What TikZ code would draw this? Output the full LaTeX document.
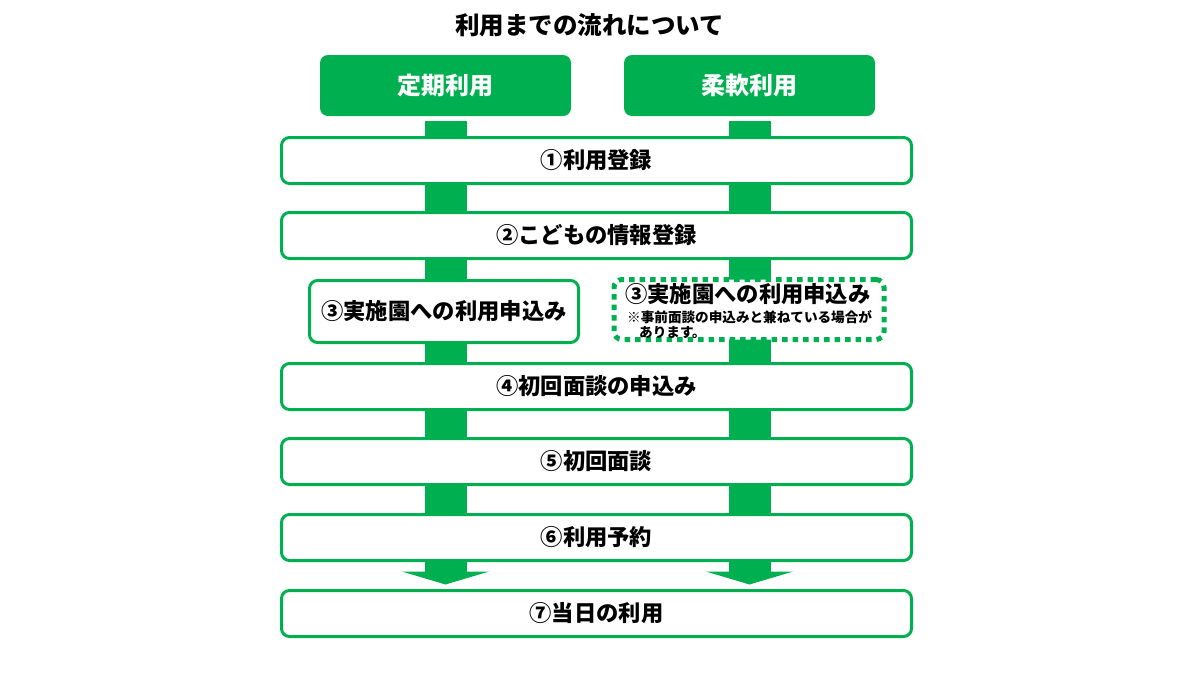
\documentclass[tikz,border=0pt]{standalone}
\usepackage{fontspec}
\setmainfont{Noto Sans CJK JP}
\usetikzlibrary{arrows.meta,backgrounds}
\definecolor{grn}{HTML}{00B050}
\begin{document}
\begin{tikzpicture}[x=1pt,y=-1pt,
  hdr/.style={fill=grn, rounded corners=8pt, minimum width=251pt, minimum height=61pt, inner sep=0pt, text=white, font=\fontsize{24}{28}\selectfont\bfseries},
  stepbox/.style={draw=grn, line width=3pt, fill=white, rounded corners=8pt, minimum width=630pt, minimum height=46pt, inner sep=0pt, font=\fontsize{22.3}{26}\selectfont\bfseries},
  subbox/.style={stepbox, minimum width=269pt, minimum height=62pt},
  dashbox/.style={draw=grn, line width=5pt, fill=white, rounded corners=8pt, dash pattern=on 5.5pt off 5pt, minimum width=270pt, minimum height=60pt, inner sep=0pt},
  txt/.style={inner sep=0pt, anchor=base west},
  flow/.style={grn, line width=42pt, -{Triangle[width=87pt,length=13pt]}, shorten <=5pt, shorten >=4.5pt}
]
\useasboundingbox (0,0) rectangle (1200,675);
\node[font=\fontsize{24.5}{28}\selectfont\bfseries, inner sep=0pt] (title) at (589.5,25) {利用までの流れについて};
\node[hdr] (h1) at (445.5,85.5) {定期利用};
\node[hdr] (h2) at (749.5,85.5) {柔軟利用};
\node[stepbox] (s1) at (596.5,160.5) {①利用登録};
\node[stepbox] (s2) at (596.5,235.5) {②こどもの情報登録};
\node[subbox] (s3a) at (444,311.5) {③実施園への利用申込み};
\node[dashbox] (s3b) at (749,309.5) {};
\node[txt, font=\fontsize{22.3}{26}\selectfont\bfseries] (t3b) at (625,302) {③実施園への利用申込み};
\node[txt, font=\fontsize{13.6}{16}\selectfont\bfseries] (n3b1) at (627,322) {※事前面談の申込みと兼ねている場合が};
\node[txt, font=\fontsize{13.6}{16}\selectfont\bfseries] (n3b2) at (639,337) {あります。};
\node[stepbox] (s4) at (596.5,386.5) {④初回面談の申込み};
\node[stepbox] (s5) at (596.5,461.5) {⑤初回面談};
\node[stepbox] (s6) at (596.5,537.5) {⑥利用予約};
\node[stepbox] (s7) at (596.5,613.5) {⑦当日の利用};
\begin{scope}[on background layer]
  \draw[flow] (h1.south) -- (h1.south |- s7.north);
  \draw[flow] (h2.south) -- (h2.south |- s7.north);
\end{scope}
\end{tikzpicture}
\end{document}
